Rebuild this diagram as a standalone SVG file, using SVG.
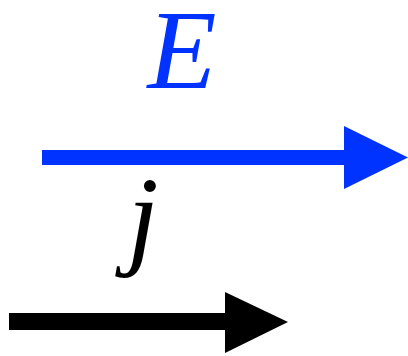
<svg xmlns="http://www.w3.org/2000/svg" width="408" height="356" viewBox="0 0 408 356">
<style>
.lbl{font-family:"Liberation Serif","Times New Roman",serif;font-style:italic;font-size:113px;text-anchor:middle}
</style>
<rect width="408" height="356" fill="#ffffff"/>
<g id="connectors">
<g id="arrow-E">
<rect x="42" y="150" width="304" height="15" fill="#0033ff"/>
<polygon points="344,126 408,157.5 344,189" fill="#0033ff"/>
</g>
<g id="arrow-j">
<rect x="9" y="313" width="218" height="17" fill="#000000"/>
<polygon points="225,292 288,322 225,353" fill="#000000"/>
</g>
</g>
<g id="label-E"><text class="lbl" x="182" y="88" fill="#0033ff">E</text></g>
<g id="label-j"><text class="lbl" x="143" y="254" fill="#000000">j</text></g>
</svg>
